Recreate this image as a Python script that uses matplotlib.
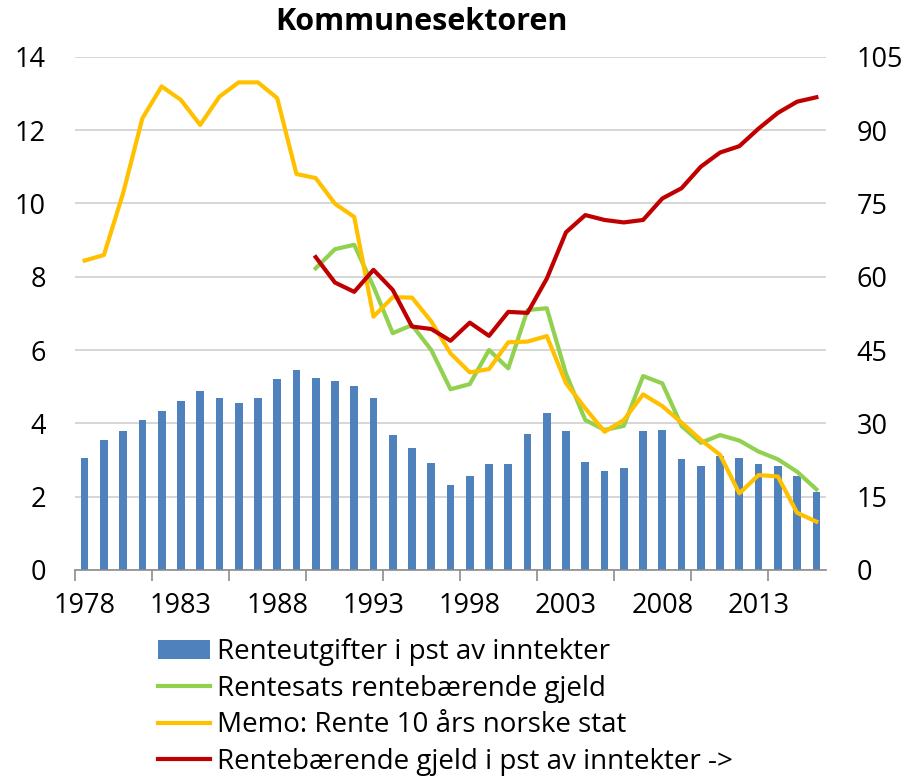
import matplotlib
matplotlib.use("Agg")
import matplotlib.pyplot as plt
from matplotlib.ticker import FixedLocator
import numpy as np

plt.rcParams['font.family'] = ['Open Sans', 'DejaVu Sans']

years = list(range(1978, 2017))
renteutgifter = [3.05, 3.55, 3.8, 4.1, 4.35, 4.6, 4.87, 4.68, 4.56, 4.68,
                 5.22, 5.45, 5.25, 5.15, 5.02, 4.7, 3.67, 3.33, 2.93, 2.33,
                 2.57, 2.88, 2.88, 3.7, 4.28, 3.8, 2.95, 2.7, 2.78, 3.8,
                 3.82, 3.04, 2.85, 3.1, 3.05, 2.9, 2.83, 2.57, 2.12]

green_years = list(range(1990, 2017))
rentesats = [8.23, 8.75, 8.87, 7.73, 6.46, 6.68, 6.0, 4.93, 5.07, 6.0,
             5.5, 7.09, 7.14, 5.35, 4.09, 3.82, 3.93, 5.29, 5.09, 3.93,
             3.47, 3.68, 3.53, 3.23, 3.02, 2.68, 2.2]

memo_rente = [8.44, 8.59, 10.28, 12.32, 13.19, 12.82, 12.14, 12.91, 13.3, 13.3,
              12.87, 10.8, 10.69, 9.99, 9.63, 6.91, 7.44, 7.43, 6.78, 5.91,
              5.39, 5.48, 6.21, 6.23, 6.38, 5.09, 4.41, 3.77, 4.09, 4.79,
              4.47, 4.02, 3.55, 3.14, 2.09, 2.59, 2.55, 1.56, 1.32]

red_years = list(range(1990, 2017))
gjeld = [64.0, 58.8, 56.9, 61.4, 57.3, 49.8, 49.3, 46.9, 50.6, 47.9,
         52.8, 52.6, 59.6, 69.1, 72.6, 71.6, 71.1, 71.6, 76.0, 78.1,
         82.5, 85.4, 86.7, 90.3, 93.5, 95.8, 96.7]

label_years = [1978, 1983, 1988, 1993, 1998, 2003, 2008, 2013]
left_ticks = [0, 2, 4, 6, 8, 10, 12, 14]
right_ticks = [0, 15, 30, 45, 60, 75, 90, 105]

labels = ["Renteutgifter i pst av inntekter",
          "Rentesats rentebærende gjeld",
          "Memo: Rente 10 års norske stat",
          "Rentebærende gjeld i pst av inntekter ->"]

c_bar = '#4F81BD'
c_green = '#92D050'
c_yellow = '#FFC000'
c_red = '#C00000'
grid_c = '#D0D0D0'
axis_c = '#8C8C8C'
tick_fs = 19.5

fig = plt.figure(figsize=(9.07, 7.77), dpi=100)
ax = fig.add_axes([75/907, 1-570/777, (826-75)/907, (570-56.7)/777])
ax2 = ax.twinx()

b = ax.bar(years, renteutgifter, width=0.4, color=c_bar, zorder=2, label=labels[0])
lg, = ax.plot(green_years, rentesats, color=c_green, lw=3, zorder=3, label=labels[1],
              solid_joinstyle='round')
ly, = ax.plot(years, memo_rente, color=c_yellow, lw=3, zorder=4, label=labels[2],
              solid_joinstyle='round')
lr, = ax2.plot(red_years, gjeld, color=c_red, lw=3, zorder=5, label=labels[3],
               solid_joinstyle='round')

ax.set_xlim(1977.5, 2016.5)
ax.set_ylim(0, 14)
ax2.set_ylim(0, 105)
ax.set_yticks(left_ticks)
ax2.set_yticks(right_ticks)
ax.yaxis.grid(True, color=grid_c, lw=1.2, zorder=0)
ax.set_axisbelow(True)

for a in (ax, ax2):
    for s in ('left', 'right', 'top'):
        a.spines[s].set_visible(False)
ax.spines['bottom'].set_color(axis_c)
ax.spines['bottom'].set_linewidth(1.2)
ax2.spines['bottom'].set_visible(False)

ax.set_xticks(label_years)
ax.set_xticklabels([str(y) for y in label_years])
ax.xaxis.set_minor_locator(FixedLocator(np.arange(1977.5, 2016.6, 4)))
ax.tick_params(axis='x', which='major', length=0, pad=16, labelsize=tick_fs)
ax.tick_params(axis='x', which='minor', length=8, width=1.2, color=axis_c)
ax.tick_params(axis='y', length=0, pad=21, labelsize=tick_fs)
ax2.tick_params(axis='y', length=0, pad=22, labelsize=tick_fs)

fig.text(421.5/907, 1-7/777, "Kommunesektoren", ha='center', va='top',
         fontsize=22, fontweight='bold')

fig.legend(handles=[b, lg, ly, lr], labels=labels, loc='upper left',
           bbox_to_anchor=(158/907, 1-638/777), frameon=False, fontsize=20,
           handlelength=1.87, handletextpad=0.25, labelspacing=0.31,
           borderaxespad=0, borderpad=0)

fig.savefig('out.png', dpi=100)
